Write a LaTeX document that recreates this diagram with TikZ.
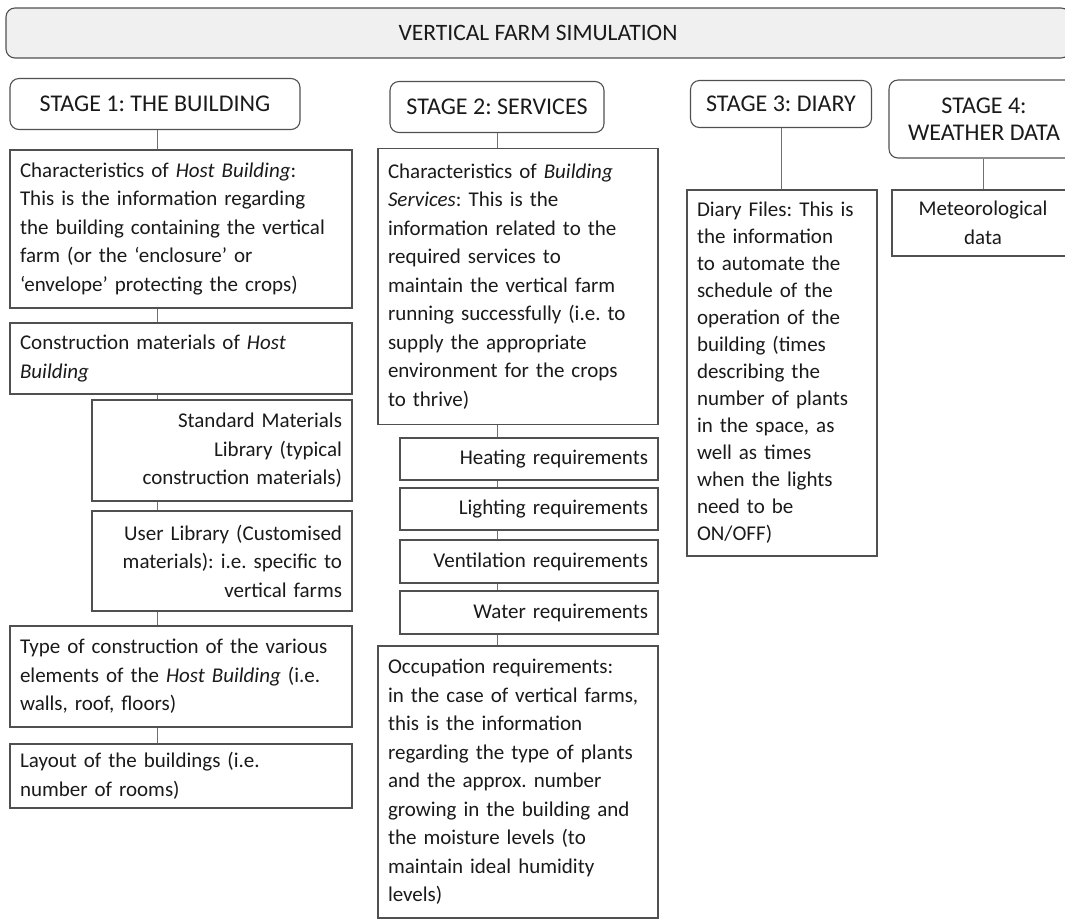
\documentclass[tikz,border=0pt]{standalone}
\usepackage{fontspec}
\setmainfont{Carlito}
\usetikzlibrary{positioning,calc}
\definecolor{edgegrey}{HTML}{505050}
\definecolor{linkgrey}{HTML}{707070}
\definecolor{titlefill}{HTML}{F0F0F0}
\definecolor{inkgrey}{HTML}{1A1A1A}
\frenchspacing

\begin{document}
\begin{tikzpicture}[x=1pt,y=-1pt,
  every node/.style={text=inkgrey,font=\fontsize{21}{28.5}\selectfont},
  stagebox/.style={draw=edgegrey,line width=1.1pt,rounded corners=9pt,align=center,inner sep=0pt,
    font=\fontsize{24}{27}\selectfont},
  infobox/.style={draw=edgegrey,line width=1.1pt,inner xsep=10pt,inner ysep=0pt},
  leftbox/.style={infobox,align=left},
  rightbox/.style={infobox,align=right},
  midbox/.style={infobox,align=center},
  link/.style={draw=linkgrey,line width=1pt}]
\useasboundingbox (0,0) rectangle (1065,922);
\clip (0,0) rectangle (1065,922);
% title bar
\node[stagebox,fill=titlefill,minimum width=1064,minimum height=50,font=\fontsize{23.5}{27}\selectfont] (title) at (538,33) {VERTICAL FARM SIMULATION};
% stage heads
\node[stagebox,minimum width=290,minimum height=51] (s1) at (155,104) {STAGE 1: THE BUILDING};
\node[stagebox,minimum width=214,minimum height=51] (s2) at (497,107) {STAGE 2: SERVICES};
\node[stagebox,minimum width=181,minimum height=47] (s3) at (781,104) {STAGE 3: DIARY};
\node[stagebox,minimum width=190,minimum height=78] (s4) at (984,119) {STAGE 4:\\WEATHER DATA};
% stage 1 column
\node[leftbox,text width=322,minimum height=158] (host) at (181,229)
  {Characteristics of \textit{Host Building}:\\This is the information regarding\\the building containing the vertical\\farm (or the ‘enclosure’ or\\‘envelope’ protecting the crops)};
\node[leftbox,text width=322,minimum height=71] (cons) at (181,358.5)
  {Construction materials of \textit{Host}\\\textit{Building}};
\node[rightbox,text width=240,minimum height=101] (stdlib) at (222,450.5)
  {Standard Materials\\Library (typical\\construction materials)};
\node[rightbox,text width=240,minimum height=100] (usrlib) at (222,561)
  {User Library (Customised\\materials): i.e. specific to\\vertical farms};
\node[leftbox,text width=322,minimum height=101] (ctype) at (181,676.5)
  {Type of construction of the various\\elements of the \textit{Host Building} (i.e.\\walls, roof, floors)};
\node[leftbox,text width=322,minimum height=64] (layout) at (181,776)
  {Layout of the buildings (i.e.\\number of rooms)};
% stage 2 column
\node[leftbox,text width=260,minimum height=276] (serv) at (518,286.5)
  {Characteristics of \textit{Building}\\\textit{Services}: This is the\\information related to the\\required services to\\maintain the vertical farm\\running successfully (i.e. to\\supply the appropriate\\environment for the crops\\to thrive)};
\node[rightbox,text width=238,minimum height=42] (heat) at (529,459) {Heating requirements};
\node[rightbox,text width=238,minimum height=42] (light) at (529,509) {Lighting requirements};
\node[rightbox,text width=238,minimum height=43] (vent) at (529,561.5) {Ventilation requirements};
\node[rightbox,text width=238,minimum height=43] (water) at (529,612.5) {Water requirements};
\node[leftbox,text width=260,minimum height=272] (occup) at (518,782)
  {Occupation requirements:\\in the case of vertical farms,\\this is the information\\regarding the type of plants\\and the approx. number\\growing in the building and\\the moisture levels (to\\maintain ideal humidity\\levels)};
% stage 3 and 4
\node[leftbox,font=\fontsize{21}{27}\selectfont,text width=170,minimum height=366] (diary) at (782,373)
  {Diary Files: This is\\the information\\to automate the\\schedule of the\\operation of the\\building (times\\describing the\\number of plants\\in the space, as\\well as times\\when the lights\\need to be\\ON/OFF)};
\node[midbox,text width=162,minimum height=66] (meteo) at (983,223) {Meteorological\\data};
% connectors
\draw[link] (s1.south -| 157,0) -- (157,0 |- host.north);
\draw[link] (host.south -| 157,0) -- (157,0 |- cons.north);
\draw[link] (cons.south -| 157,0) -- (157,0 |- stdlib.north);
\draw[link] (stdlib.south -| 157,0) -- (157,0 |- usrlib.north);
\draw[link] (usrlib.south -| 157,0) -- (157,0 |- ctype.north);
\draw[link] (ctype.south -| 157,0) -- (157,0 |- layout.north);
\draw[link] (s2.south) -- (s2.south |- serv.north);
\draw[link] (s2.south |- serv.south) -- (s2.south |- heat.north);
\draw[link] (s2.south |- heat.south) -- (s2.south |- light.north);
\draw[link] (s2.south |- light.south) -- (s2.south |- vent.north);
\draw[link] (s2.south |- vent.south) -- (s2.south |- water.north);
\draw[link] (s2.south |- water.south) -- (s2.south |- occup.north);
\draw[link] (s3.south) -- (s3.south |- diary.north);
\draw[link] (s4.south -| meteo) -- (meteo.north);
\end{tikzpicture}
\end{document}
